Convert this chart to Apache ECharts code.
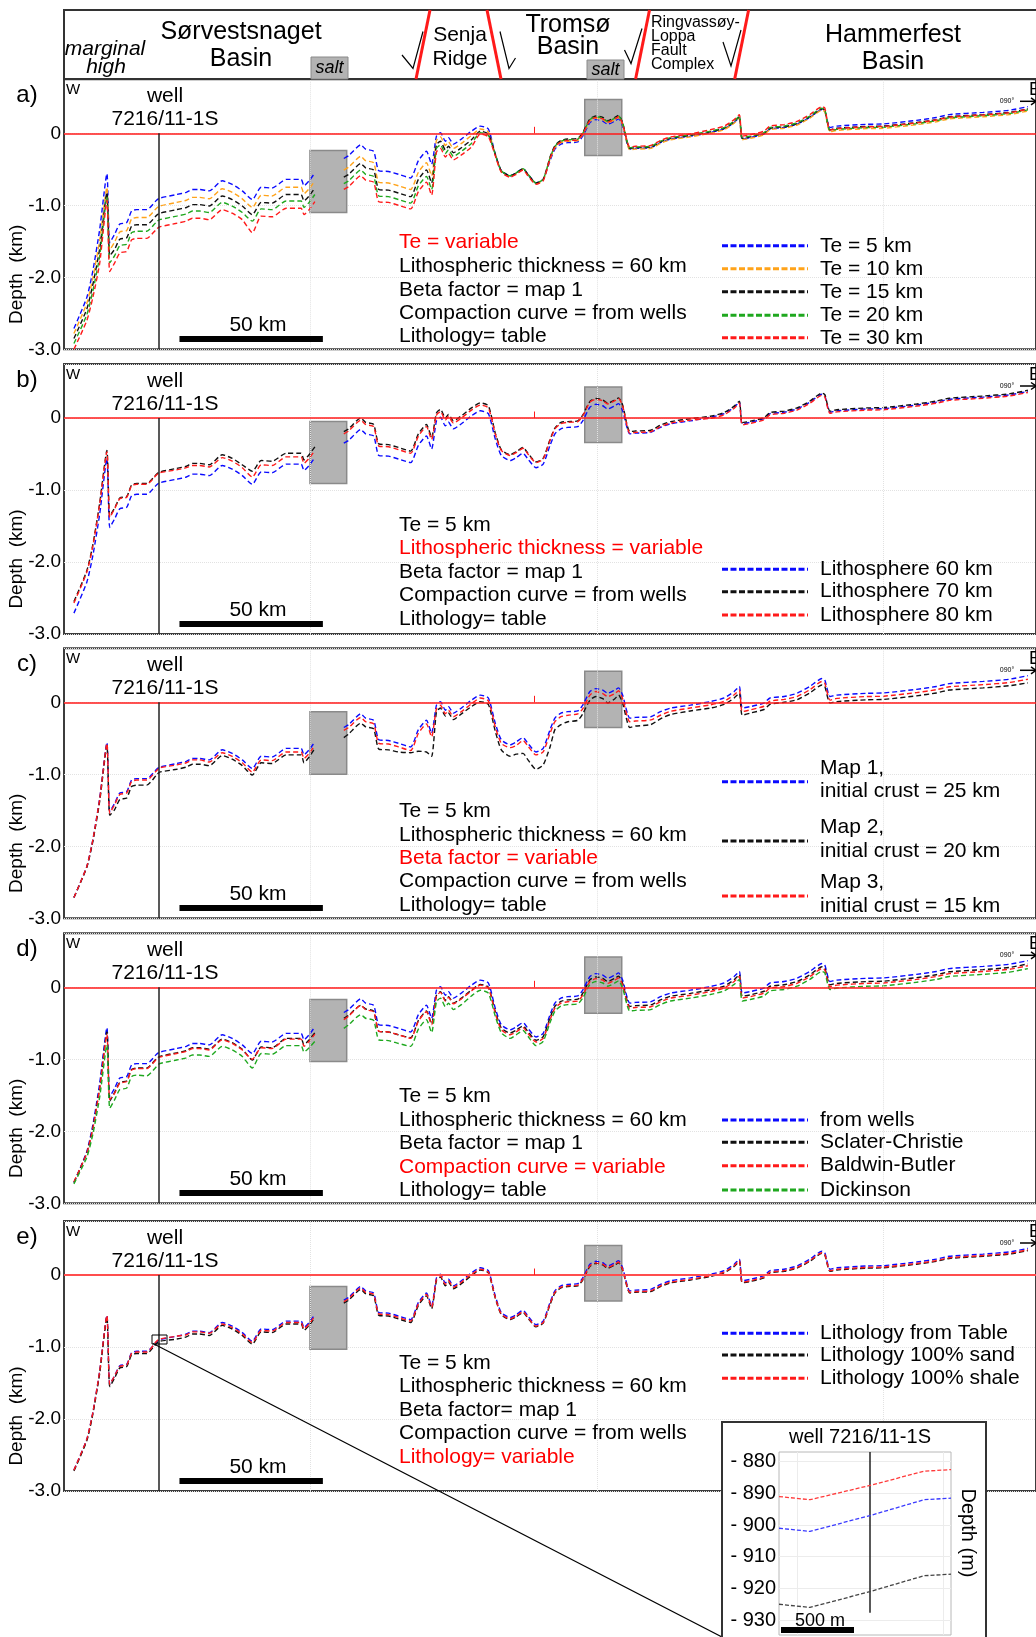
<!DOCTYPE html>
<html><head><meta charset="utf-8">
<script src="https://cdn.jsdelivr.net/npm/echarts@6/dist/echarts.min.js"></script>
<style>html,body{margin:0;padding:0;background:#fff}#c{width:1036px;height:1637px}</style>
</head><body><div id="c"></div>
<script>
// ---------- DATA ----------
// distance along profile (km, 0 = first grid line)
const X = [-82.3,-77.8,-75.7,-73.3,-70.8,-69.8,-68.1,-66.3,-63.9,-62.2,
 -60.4,-56.9,-53.5,-52.4,-46.5,-43.1,-41.0,-38.5,-35.1,-30.6,
 -27.1,-23.6,-20.1,-17.0,-13.2,-8.3,-3.1,-2.1,-0.3,1.7,
 6.6,11.8,13.5,17.7,19.4,22.2,24.0,27.4,30.9,35.1,
 37.8,40.6,42.4,44.1,45.5,47.2,48.3,50.0,52.8,56.3,
 59.4,62.2,64.6,66.7,69.8,71.9,74.3,76.0,78.8,81.3,
 83.7,85.4,87.5,89.9,93.4,95.1,97.6,99.7,102.1,103.8,
 106.3,107.6,109.0,111.5,113.5,118.8,122.2,125.7,132.6,139.6,
 144.4,147.9,149.7,150.7,153.5,158.3,160.4,165.3,169.8,174.3,
 178.5,179.5,181.3,183.7,194.1,200.0,211.5,218.4,222.9,234.7,
 243.8,250.3];
// reference model (Te 5 km, lithosphere 60 km, map 1, from wells, table)
const REF = [-2.71,-2.28,-1.91,-1.33,-0.56,-1.52,-1.40,-1.26,-1.24,-1.08,
 -1.06,-1.06,-0.93,-0.90,-0.85,-0.82,-0.78,-0.78,-0.80,-0.66,
 -0.71,-0.80,-0.92,-0.75,-0.76,-0.64,-0.64,-0.73,-0.66,-0.55,
 null,-0.35,-0.31,-0.16,-0.22,-0.25,-0.52,-0.53,-0.57,-0.62,
 -0.38,-0.25,-0.43,-0.04,0.01,-0.11,-0.06,-0.15,-0.08,0.03,
 0.10,0.06,-0.29,-0.52,-0.59,-0.55,-0.49,-0.57,-0.69,-0.64,
 -0.38,-0.22,-0.15,-0.13,-0.12,-0.04,0.15,0.19,0.17,0.125,
 0.17,0.20,0.10,-0.22,-0.21,-0.20,-0.13,-0.08,-0.04,0.01,
 0.06,0.15,0.22,-0.08,-0.06,-0.01,0.06,0.08,0.125,0.22,
 0.33,0.31,0.08,0.10,0.125,0.13,0.18,0.22,0.26,0.29,
 0.32,0.37];
const A_TE10 = [-2.78,-2.36,-2.01,-1.48,-0.75,-1.62,-1.51,-1.37,-1.35,-1.19,
 -1.17,-1.17,-1.04,-1.01,-0.96,-0.93,-0.89,-0.89,-0.91,-0.77,
 -0.82,-0.91,-1.03,-0.86,-0.87,-0.75,-0.75,-0.84,-0.77,-0.66,
 null,-0.51,-0.47,-0.32,-0.38,-0.41,-0.68,-0.69,-0.73,-0.78,
 -0.54,-0.41,-0.59,-0.10,-0.05,-0.17,-0.12,-0.21,-0.14,-0.03,
 0.06,0.02,-0.30,-0.53,-0.60,-0.56,-0.50,-0.58,-0.70,-0.65,
 -0.36,-0.20,-0.13,-0.11,-0.10,-0.02,0.17,0.21,0.19,0.145,
 0.19,0.22,0.12,-0.23,-0.22,-0.21,-0.14,-0.09,-0.05,0.00,
 0.05,0.14,0.21,-0.09,-0.07,-0.02,0.05,0.07,0.115,0.21,
 0.32,0.30,0.02,0.04,0.065,0.07,0.12,0.16,0.20,0.23,
 0.26,0.31];
const A_TE15 = [-2.85,-2.44,-2.10,-1.60,-0.82,-1.70,-1.61,-1.47,-1.45,-1.29,
 -1.27,-1.27,-1.14,-1.11,-1.06,-1.03,-0.99,-0.99,-1.01,-0.87,
 -0.92,-1.01,-1.13,-0.96,-0.97,-0.85,-0.85,-0.94,-0.87,-0.76,
 null,-0.61,-0.57,-0.42,-0.48,-0.51,-0.78,-0.79,-0.83,-0.88,
 -0.64,-0.51,-0.69,-0.16,-0.11,-0.23,-0.18,-0.27,-0.20,-0.09,
 0.03,-0.01,-0.29,-0.52,-0.59,-0.55,-0.49,-0.57,-0.69,-0.64,
 -0.33,-0.17,-0.10,-0.08,-0.07,0.01,0.20,0.24,0.22,0.175,
 0.22,0.25,0.15,-0.21,-0.20,-0.19,-0.12,-0.07,-0.03,0.02,
 0.07,0.16,0.23,-0.07,-0.05,0.00,0.07,0.09,0.135,0.23,
 0.34,0.32,0.05,0.07,0.095,0.10,0.15,0.19,0.23,0.26,
 0.29,0.34];
const A_TE20 = [-2.92,-2.52,-2.19,-1.70,-0.88,-1.80,-1.70,-1.56,-1.54,-1.38,
 -1.36,-1.36,-1.23,-1.20,-1.15,-1.12,-1.08,-1.08,-1.10,-0.96,
 -1.01,-1.10,-1.22,-1.05,-1.06,-0.94,-0.94,-1.03,-0.96,-0.85,
 null,-0.70,-0.66,-0.51,-0.57,-0.60,-0.87,-0.88,-0.92,-0.97,
 -0.73,-0.60,-0.78,-0.21,-0.16,-0.28,-0.23,-0.32,-0.25,-0.14,
 0.01,-0.03,-0.29,-0.52,-0.59,-0.55,-0.49,-0.57,-0.69,-0.64,
 -0.34,-0.18,-0.11,-0.09,-0.08,0.00,0.19,0.23,0.21,0.165,
 0.21,0.24,0.14,-0.20,-0.19,-0.18,-0.11,-0.06,-0.02,0.03,
 0.08,0.17,0.24,-0.06,-0.04,0.01,0.08,0.10,0.145,0.24,
 0.35,0.33,0.035,0.055,0.08,0.085,0.135,0.175,0.215,0.245,
 0.275,0.325];
const A_TE30 = [-3.00,-2.60,-2.28,-1.80,-0.93,-1.92,-1.80,-1.66,-1.64,-1.48,
 -1.46,-1.46,-1.33,-1.30,-1.25,-1.22,-1.18,-1.18,-1.20,-1.06,
 -1.11,-1.20,-1.38,-1.15,-1.16,-1.04,-1.04,-1.13,-1.06,-0.95,
 null,-0.78,-0.74,-0.59,-0.65,-0.68,-0.95,-0.96,-1.00,-1.05,
 -0.81,-0.68,-0.86,-0.26,-0.21,-0.33,-0.28,-0.37,-0.30,-0.19,
 -0.01,-0.05,-0.31,-0.54,-0.61,-0.57,-0.51,-0.59,-0.71,-0.66,
 -0.35,-0.19,-0.12,-0.10,-0.09,-0.01,0.18,0.22,0.20,0.155,
 0.20,0.23,0.13,-0.19,-0.18,-0.17,-0.10,-0.05,-0.01,0.05,
 0.10,0.19,0.26,-0.04,-0.02,0.03,0.10,0.12,0.165,0.26,
 0.37,0.35,0.045,0.065,0.09,0.095,0.145,0.185,0.225,0.255,
 0.285,0.335];
const B_L70 = [-2.55,-2.12,-1.76,-1.18,-0.45,-1.36,-1.25,-1.11,-1.09,-0.93,
 -0.91,-0.91,-0.78,-0.75,-0.70,-0.67,-0.63,-0.63,-0.65,-0.51,
 -0.56,-0.65,-0.74,-0.59,-0.60,-0.49,-0.49,-0.58,-0.51,-0.40,
 null,-0.19,-0.15,0.00,-0.06,-0.09,-0.36,-0.37,-0.41,-0.46,
 -0.22,-0.09,-0.27,0.07,0.12,0.00,0.05,-0.04,0.03,0.14,
 0.21,0.17,-0.21,-0.44,-0.51,-0.47,-0.41,-0.49,-0.61,-0.56,
 -0.30,-0.14,-0.06,-0.05,-0.04,0.04,0.23,0.27,0.25,0.205,
 0.25,0.28,0.18,-0.19,-0.18,-0.17,-0.10,-0.05,-0.01,0.025,
 0.075,0.165,0.235,-0.065,-0.045,0.005,0.075,0.095,0.14,0.235,
 0.345,0.325,0.095,0.115,0.14,0.145,0.195,0.235,0.275,0.305,
 0.335,0.385];
const B_L80 = [-2.57,-2.14,-1.78,-1.19,-0.47,-1.38,-1.26,-1.12,-1.10,-0.94,
 -0.92,-0.92,-0.79,-0.76,-0.72,-0.69,-0.66,-0.66,-0.68,-0.55,
 -0.60,-0.69,-0.82,-0.65,-0.66,-0.54,-0.54,-0.63,-0.56,-0.45,
 null,-0.22,-0.18,-0.03,-0.09,-0.12,-0.39,-0.40,-0.44,-0.49,
 -0.25,-0.12,-0.30,0.04,0.09,-0.03,0.02,-0.07,0.00,0.11,
 0.18,0.14,-0.22,-0.45,-0.52,-0.48,-0.42,-0.50,-0.62,-0.57,
 -0.31,-0.15,-0.08,-0.06,-0.05,0.03,0.22,0.26,0.24,0.195,
 0.24,0.27,0.17,-0.21,-0.20,-0.19,-0.12,-0.07,-0.03,-0.005,
 0.045,0.135,0.205,-0.095,-0.075,-0.025,0.045,0.065,0.11,0.205,
 0.315,0.295,0.065,0.085,0.11,0.115,0.165,0.205,0.245,0.275,
 0.305,0.355];
const C_MAP2 = [-2.71,-2.29,-1.93,-1.37,-0.60,-1.57,-1.49,-1.35,-1.33,-1.17,
 -1.15,-1.15,-1.01,-0.97,-0.93,-0.90,-0.86,-0.86,-0.88,-0.74,
 -0.79,-0.88,-1.01,-0.84,-0.85,-0.73,-0.73,-0.84,-0.76,-0.64,
 null,-0.49,-0.44,-0.29,-0.34,-0.37,-0.65,-0.66,-0.69,-0.70,
 -0.68,-0.69,-0.75,-0.13,-0.08,-0.19,-0.15,-0.24,-0.16,-0.06,
 0.01,-0.03,-0.40,-0.66,-0.75,-0.72,-0.71,-0.80,-0.93,-0.87,
 -0.62,-0.38,-0.31,-0.27,-0.25,-0.16,0.03,0.08,0.05,-0.01,
 0.05,0.10,-0.01,-0.35,-0.33,-0.31,-0.23,-0.17,-0.12,-0.08,
 -0.03,0.06,0.125,-0.18,-0.15,-0.10,-0.03,0.00,0.035,0.13,
 0.24,0.22,-0.01,0.01,0.035,0.04,0.09,0.13,0.17,0.20,
 0.23,0.27];
const C_MAP3 = [-2.71,-2.28,-1.91,-1.34,-0.57,-1.54,-1.42,-1.28,-1.26,-1.10,
 -1.08,-1.08,-0.95,-0.91,-0.87,-0.84,-0.80,-0.80,-0.83,-0.70,
 -0.75,-0.84,-0.97,-0.80,-0.81,-0.69,-0.69,-0.78,-0.71,-0.60,
 null,-0.39,-0.35,-0.21,-0.27,-0.30,-0.57,-0.58,-0.62,-0.67,
 -0.43,-0.30,-0.48,-0.09,-0.04,-0.16,-0.11,-0.20,-0.13,-0.02,
 0.06,0.02,-0.34,-0.57,-0.63,-0.60,-0.53,-0.61,-0.73,-0.69,
 -0.43,-0.27,-0.20,-0.18,-0.16,-0.09,0.10,0.15,0.12,0.08,
 0.12,0.16,0.05,-0.27,-0.26,-0.245,-0.18,-0.125,-0.08,-0.035,
 0.015,0.105,0.17,-0.13,-0.105,-0.055,0.015,0.04,0.08,0.175,
 0.29,0.265,0.03,0.055,0.08,0.085,0.135,0.175,0.215,0.245,
 0.275,0.32];
const D_SC = [-2.71,-2.30,-1.95,-1.39,-0.62,-1.58,-1.46,-1.32,-1.30,-1.14,
 -1.12,-1.12,-0.99,-0.96,-0.91,-0.88,-0.84,-0.84,-0.86,-0.72,
 -0.77,-0.86,-1.01,-0.83,-0.84,-0.71,-0.71,-0.80,-0.73,-0.63,
 null,-0.43,-0.39,-0.25,-0.30,-0.33,-0.61,-0.62,-0.66,-0.70,
 -0.46,-0.33,-0.51,-0.11,-0.06,-0.18,-0.13,-0.22,-0.15,-0.04,
 0.04,0.00,-0.335,-0.565,-0.635,-0.595,-0.535,-0.615,-0.735,-0.685,
 -0.425,-0.265,-0.195,-0.175,-0.165,-0.085,0.105,0.145,0.125,0.08,
 0.125,0.155,0.055,-0.265,-0.255,-0.245,-0.175,-0.125,-0.085,-0.035,
 0.015,0.105,0.175,-0.125,-0.105,-0.055,0.015,0.035,0.08,0.175,
 0.285,0.265,0.035,0.055,0.08,0.085,0.135,0.175,0.215,0.245,
 0.275,0.325];
const D_BB = [-2.70,-2.30,-1.96,-1.40,-0.65,-1.56,-1.47,-1.33,-1.31,-1.15,
 -1.13,-1.13,-1.00,-0.97,-0.92,-0.89,-0.85,-0.85,-0.87,-0.73,
 -0.78,-0.87,-1.00,-0.84,-0.85,-0.72,-0.72,-0.82,-0.75,-0.65,
 null,-0.45,-0.40,-0.25,-0.31,-0.34,-0.61,-0.62,-0.66,-0.71,
 -0.47,-0.34,-0.52,-0.12,-0.07,-0.19,-0.14,-0.23,-0.16,-0.05,
 0.03,-0.01,-0.36,-0.59,-0.66,-0.62,-0.56,-0.64,-0.76,-0.71,
 -0.45,-0.29,-0.22,-0.20,-0.19,-0.11,0.08,0.12,0.10,0.055,
 0.10,0.13,0.03,-0.29,-0.28,-0.27,-0.20,-0.15,-0.11,-0.06,
 -0.01,0.08,0.15,-0.15,-0.13,-0.08,-0.01,0.01,0.055,0.15,
 0.26,0.24,0.01,0.03,0.055,0.06,0.11,0.15,0.19,0.22,
 0.25,0.30];
const D_DK = [-2.73,-2.36,-2.04,-1.52,-0.80,-1.68,-1.56,-1.42,-1.40,-1.24,
 -1.22,-1.23,-1.10,-1.06,-1.01,-0.98,-0.94,-0.94,-0.96,-0.82,
 -0.87,-0.96,-1.12,-0.92,-0.93,-0.81,-0.81,-0.90,-0.84,-0.75,
 null,-0.57,-0.52,-0.38,-0.43,-0.46,-0.73,-0.74,-0.78,-0.82,
 -0.58,-0.45,-0.63,-0.20,-0.15,-0.27,-0.22,-0.31,-0.24,-0.12,
 -0.04,-0.08,-0.40,-0.63,-0.71,-0.66,-0.60,-0.68,-0.81,-0.75,
 -0.49,-0.33,-0.26,-0.24,-0.23,-0.15,0.04,0.08,0.06,0.015,
 0.06,0.09,-0.01,-0.33,-0.32,-0.31,-0.24,-0.19,-0.15,-0.10,
 -0.05,0.04,0.11,-0.19,-0.17,-0.12,-0.05,-0.03,0.015,0.11,
 0.22,0.20,-0.03,-0.01,0.015,0.02,0.07,0.11,0.15,0.18,
 0.21,0.26];
const E_SAND = [-2.72,-2.30,-1.93,-1.36,-0.58,-1.55,-1.43,-1.29,-1.27,-1.11,
 -1.09,-1.09,-0.95,-0.92,-0.89,-0.86,-0.82,-0.82,-0.84,-0.70,
 -0.75,-0.84,-0.96,-0.79,-0.80,-0.68,-0.68,-0.77,-0.70,-0.59,
 null,-0.39,-0.35,-0.20,-0.26,-0.29,-0.56,-0.57,-0.61,-0.66,
 -0.42,-0.29,-0.47,-0.08,-0.03,-0.15,-0.10,-0.19,-0.12,-0.01,
 0.07,0.03,-0.32,-0.55,-0.62,-0.58,-0.52,-0.60,-0.72,-0.67,
 -0.41,-0.25,-0.18,-0.16,-0.15,-0.07,0.12,0.16,0.14,0.095,
 0.14,0.17,0.07,-0.25,-0.24,-0.23,-0.16,-0.11,-0.07,-0.02,
 0.03,0.12,0.19,-0.11,-0.09,-0.04,0.03,0.05,0.095,0.19,
 0.30,0.28,0.05,0.07,0.095,0.10,0.15,0.19,0.23,0.26,
 0.29,0.34];
const E_SHALE = [-2.71,-2.28,-1.91,-1.33,-0.56,-1.52,-1.40,-1.27,-1.25,-1.09,
 -1.07,-1.07,-0.92,-0.89,-0.85,-0.83,-0.79,-0.79,-0.81,-0.68,
 -0.73,-0.82,-0.94,-0.77,-0.78,-0.66,-0.66,-0.75,-0.68,-0.57,
 null,-0.37,-0.33,-0.18,-0.24,-0.27,-0.54,-0.55,-0.59,-0.64,
 -0.40,-0.27,-0.45,-0.06,-0.01,-0.13,-0.08,-0.17,-0.10,0.01,
 0.08,0.04,-0.31,-0.54,-0.61,-0.57,-0.51,-0.59,-0.71,-0.66,
 -0.40,-0.24,-0.17,-0.15,-0.14,-0.06,0.13,0.17,0.15,0.105,
 0.15,0.18,0.08,-0.24,-0.23,-0.22,-0.15,-0.10,-0.06,-0.01,
 0.04,0.13,0.20,-0.10,-0.08,-0.03,0.04,0.06,0.105,0.20,
 0.31,0.29,0.06,0.08,0.105,0.11,0.16,0.20,0.24,0.27,
 0.30,0.35];
// salt bodies (km along profile, depth km) per panel a..e
const SALT1_X = [0, 12.8], SALT2_X = [95.8, 108.7];
const SALT1_TOP = [-0.24,-0.05,-0.13,-0.17,-0.16], SALT1_BOT = [-1.10,-0.91,-1.00,-1.03,-1.03];
const SALT2_TOP = [0.47,0.43,0.43,0.42,0.41], SALT2_BOT = [-0.31,-0.34,-0.35,-0.36,-0.36];
const WELL_KM = -52.8;
const SCALEBAR_KM = [-45.5, 4.5];
const GRID_KM = [0, 100, 200];
const DEPTH_TICKS = [0, -1, -2, -3];
// inset (well 7216/11-1S), distance m, depth m
const INSET_X = [0, 212, 623, 993, 1178];
const INSET_TABLE = [901, 902, 897, 892, 891.5];
const INSET_SAND = [925, 926, 921, 916, 915.5];
const INSET_SHALE = [891, 892, 887.5, 883, 882.5];
const INSET_TICKS = [880, 890, 900, 910, 920, 930];
const INSET_WELL_M = 623;
const INSET_BAR_M = [13.7, 513.7];

const NAMES_A = ['Te = 5 km','Te = 10 km','Te = 15 km','Te = 20 km','Te = 30 km'];
const NAMES_B = ['Lithosphere 60 km','Lithosphere 70 km','Lithosphere 80 km'];
const NAMES_C = ['Map 1,\ninitial crust = 25 km','Map 2,\ninitial crust = 20 km','Map 3,\ninitial crust = 15 km'];
const NAMES_D = ['from wells','Sclater-Christie','Baldwin-Butler','Dickinson'];
const NAMES_E = ['Lithology from Table','Lithology 100% sand','Lithology 100% shale'];
const PARAMS_A = ['Te = variable','Lithospheric thickness = 60 km','Beta factor = map 1','Compaction curve = from wells','Lithology= table'];
const PARAMS_B = ['Te = 5 km','Lithospheric thickness = variable','Beta factor = map 1','Compaction curve = from wells','Lithology= table'];
const PARAMS_C = ['Te = 5 km','Lithospheric thickness = 60 km','Beta factor = variable','Compaction curve = from wells','Lithology= table'];
const PARAMS_D = ['Te = 5 km','Lithospheric thickness = 60 km','Beta factor = map 1','Compaction curve = variable','Lithology= table'];
const PARAMS_E = ['Te = 5 km','Lithospheric thickness = 60 km','Beta factor= map 1','Compaction curve = from wells','Lithology= variable'];

// ---------- STYLE / LAYOUT ----------
const BLUE='#0a0aff', ORANGE='#ffa31a', BLACK='#111111', GREEN='#1fa81f', RED='#ff1a1a';
const FONT='"Liberation Sans", Arial, sans-serif';
const PANELS = [
 {label:'a)', top:79.3, names:NAMES_A, colors:[BLUE,ORANGE,BLACK,GREEN,RED], data:[REF,A_TE10,A_TE15,A_TE20,A_TE30], params:PARAMS_A, red:0, pY:[163.4,187.4,210.5,234,257.4], lY:[166.5,189.5,212.5,236,258.5]},
 {label:'b)', top:364, names:NAMES_B, colors:[BLUE,BLACK,RED], data:[REF,B_L70,B_L80], params:PARAMS_B, red:1, pY:[161.7,184.3,208.3,231.7,255], lY:[205.3,227.7,251]},
 {label:'c)', top:648.3, names:NAMES_C, colors:[BLUE,BLACK,RED], data:[REF,C_MAP2,C_MAP3], params:PARAMS_C, red:2, pY:[163.4,186.7,210,233.4,256.7], lY:[133.4,192.7,247.7], multi:true},
 {label:'d)', top:933.3, names:NAMES_D, colors:[BLUE,BLACK,RED,GREEN], data:[REF,D_SC,D_BB,D_DK], params:PARAMS_D, red:3, pY:[163.4,186.7,210,234,257.4], lY:[186.7,209,232.4,256.7]},
 {label:'e)', top:1221, names:NAMES_E, colors:[BLUE,BLACK,RED], data:[REF,E_SAND,E_SHALE], params:PARAMS_E, red:4, pY:[142.3,165.7,189,212.3,236.3], lY:[112.3,134,157.3]}
];
const XMIN=-85.76, XMAX=253.13, PH=270;

const grids=[], xAxes=[], yAxes=[], series=[], g=[];
function txt(x,y,text,size,o){o=o||{};g.push({type:'text',x:x,y:y,z:o.z||20,rotation:o.rot||0,silent:true,
  style:{text:text,font:(o.italic?'italic ':'')+size+'px '+FONT,fill:o.color||'#000',align:o.align||'left',verticalAlign:'middle',lineHeight:o.lh||undefined}});}
function ln(x1,y1,x2,y2,color,w,dash,z){g.push({type:'line',z:z||20,silent:true,shape:{x1:x1,y1:y1,x2:x2,y2:y2},style:{stroke:color,lineWidth:w,lineDash:dash||null}});}
function poly(pts,color,w,z){g.push({type:'polyline',z:z||20,silent:true,shape:{points:pts},style:{stroke:color,lineWidth:w,fill:null}});}
function rect(x,y,w,h,fill,stroke,lw,z){g.push({type:'rect',z:z||5,silent:true,shape:{x:x,y:y,width:w,height:h},style:{fill:fill,stroke:stroke,lineWidth:lw}});}

PANELS.forEach(function(p,i){
  grids.push({left:64,top:p.top,width:976,height:PH,show:true,borderColor:'#3c3c3c',borderWidth:2,backgroundColor:'#fff'});
  xAxes.push({type:'value',gridIndex:i,min:XMIN,max:XMAX,show:false});
  yAxes.push({type:'value',gridIndex:i,min:-3,max:0.75,interval:1,
    axisLine:{show:false},axisTick:{show:false},
    axisLabel:{color:'#000',fontSize:19,fontFamily:FONT,margin:3,showMaxLabel:false,
      formatter:function(v){ if(DEPTH_TICKS.indexOf(v)<0) return ''; return v===0?'0':v.toFixed(1);}},
    splitLine:{show:true,lineStyle:{color:'#e2e2e2',width:1,type:'dotted'}}});
  const ml=[];
  GRID_KM.forEach(function(k){ml.push([{coord:[k,-3],lineStyle:{color:'#e2e2e2',width:1,type:'dotted'}},{coord:[k,0.75]}]);});
  ml.push({yAxis:0,lineStyle:{color:i===4?'#ff4d4d':'#ff1a1a',width:i===4?2:1.5,type:'solid'}});
  ml.push([{coord:[WELL_KM,0],lineStyle:{color:'#222',width:1.5,type:'solid'}},{coord:[WELL_KM,-3]}]);
  ml.push([{coord:[SCALEBAR_KM[0],-2.857],lineStyle:{color:'#000',width:6,type:'solid'}},{coord:[SCALEBAR_KM[1],-2.857]}]);
  ml.push([{coord:[78.1,0],lineStyle:{color:'#ff1a1a',width:1,type:'solid'}},{coord:[78.1,0.09]}]);
  series.push({type:'line',xAxisIndex:i,yAxisIndex:i,data:[],z:1,silent:true,
    markLine:{silent:true,symbol:'none',label:{show:false},animation:false,data:ml},
    markArea:{silent:true,animation:false,itemStyle:{color:'#b3b3b3',borderColor:'#8a8a8a',borderWidth:1.5},
      data:[[{coord:[SALT1_X[0],SALT1_TOP[i]]},{coord:[SALT1_X[1],SALT1_BOT[i]]}],
            [{coord:[SALT2_X[0],SALT2_TOP[i]]},{coord:[SALT2_X[1],SALT2_BOT[i]]}]]}});
  p.data.forEach(function(arr,k){
    series.push({type:'line',name:p.names[k],xAxisIndex:i,yAxisIndex:i,z:3,showSymbol:false,smooth:0.2,silent:true,
      data:X.map(function(x,j){return [x, arr[j]==null?'-':arr[j]];}),
      lineStyle:{color:p.colors[k],width:1.4,type:[5,3]}});
  });
  // annotations
  const t=p.top;
  txt(27,t+16,p.label,24,{align:'center'});
  txt(66,t+11,'W',15);
  txt(1029,t+11,'E',18);
  txt(1007,t+22,'090°',7,{align:'center'});
  ln(1020,t+22,1036,t+22,'#000',1.5);
  poly([[1031,t+18.5],[1036,t+22],[1031,t+25.5]],'#000',1.5);
  txt(165,t+17,'well',21,{align:'center'});
  txt(165,t+40,'7216/11-1S',21,{align:'center'});
  txt(258,t+246,'50 km',21,{align:'center'});
  txt(17,t+195,'Depth  (km)',19,{align:'center',rot:Math.PI/2});
  p.params.forEach(function(s,j){txt(399,t+p.pY[j],s,21,{color:j===p.red?'#ff0000':'#000'});});
  p.names.forEach(function(s,k){
    const y=t+p.lY[k];
    ln(722,y,808,y,p.colors[k],3,[6,2.5]);
    if(p.multi) txt(820,y-1.7,s,21,{lh:23.4}); else txt(820,y,s,21);
  });
});

// inset grid
const IN=PANELS.length;
grids.push({left:779,top:1452,width:172,height:183,show:true,borderColor:'#b8b8b8',borderWidth:1,backgroundColor:'#fff',z:40});
xAxes.push({type:'value',gridIndex:IN,min:0,max:1178,show:false,z:40});
yAxes.push({type:'value',gridIndex:IN,inverse:true,min:876.94,max:934.7,z:40,
  axisLine:{show:false},axisTick:{show:false},splitLine:{show:false},
  axisLabel:{customValues:INSET_TICKS,color:'#000',fontSize:20,fontFamily:FONT,margin:3,formatter:function(v){return '- '+v;}}});
const iml=[];
INSET_TICKS.forEach(function(v){iml.push([{coord:[0,v],lineStyle:{color:'#ececec',width:1,type:'solid'}},{coord:[1178,v]}]);});
[123,1123].forEach(function(v){iml.push([{coord:[v,876.94],lineStyle:{color:'#ececec',width:1,type:'solid'}},{coord:[v,934.7]}]);});
iml.push([{coord:[INSET_WELL_M,876.94],lineStyle:{color:'#222',width:1.5,type:'solid'}},{coord:[INSET_WELL_M,927.7]}]);
iml.push([{coord:[INSET_BAR_M[0],933.1],lineStyle:{color:'#000',width:6,type:'solid'}},{coord:[INSET_BAR_M[1],933.1]}]);
[[INSET_SHALE,'#ff3a3a'],[INSET_TABLE,'#3a3aff'],[INSET_SAND,'#444']].forEach(function(s,k){
  const sr={type:'line',xAxisIndex:IN,yAxisIndex:IN,z:42,showSymbol:false,silent:true,
    data:INSET_X.map(function(x,j){return [x,s[0][j]];}),lineStyle:{color:s[1],width:1.3,type:[4,2]}};
  if(k===0) sr.markLine={silent:true,z:41,symbol:'none',label:{show:false},animation:false,data:iml};
  series.push(sr);
});

// header
rect(64,10,990,69,'#fff','#333',2,5);
txt(105,49,'marginal',21,{italic:true,align:'center'});
txt(106,67,'high',21,{italic:true,align:'center'});
txt(241,32,'Sørvestsnaget',25,{align:'center'});
txt(241,59,'Basin',25,{align:'center'});
rect(311,57,37,22,'#b3b3b3','#8a8a8a',1,6);
txt(329.5,68,'salt',18,{italic:true,align:'center'});
rect(587,60,37,19,'#b3b3b3','#8a8a8a',1,6);
txt(605.5,69.5,'salt',18,{italic:true,align:'center'});
ln(430,10,416,79,'#ff1a1a',3);
ln(487,10,501,79,'#ff1a1a',3);
ln(649.5,10,635.6,79,'#ff1a1a',3);
ln(748.6,10,734.7,79,'#ff1a1a',3);
txt(460,35,'Senja',21,{align:'center'});
txt(460,59,'Ridge',21,{align:'center'});
txt(568,25,'Tromsø',25,{align:'center'});
txt(568,47,'Basin',25,{align:'center'});
txt(651,22.7,'Ringvassøy-',16);
txt(651,36.7,'Loppa',16);
txt(651,50.7,'Fault',16);
txt(651,65,'Complex',16);
txt(893,35,'Hammerfest',25,{align:'center'});
txt(893,62,'Basin',25,{align:'center'});
poly([[402,55],[413,68.5],[423,31.5]],'#000',1.2);
poly([[500,31.5],[509,68.5],[515.5,58]],'#000',1.2);
poly([[624.5,50],[631,63.5],[642,28.5]],'#000',1.2);
poly([[723,42],[731,66],[741,30]],'#000',1.2);

// inset frame & zoom link
rect(152,1335,15,9,null,'#000',1,25);
ln(153,1343.5,722,1637,'#000',1.2,null,24);
rect(722,1422,264,240,'#fff','#333',2,30);
txt(860,1437,'well 7216/11-1S',20,{align:'center',z:31});
txt(968,1533,'Depth (m)',20,{align:'center',rot:-Math.PI/2,z:31});
txt(820,1621,'500 m',18,{align:'center',z:50});

const chart=echarts.init(document.getElementById('c'),null,{renderer:'canvas'});
chart.setOption({animation:false,backgroundColor:'#fff',grid:grids,xAxis:xAxes,yAxis:yAxes,series:series,graphic:g});
</script></body></html>
